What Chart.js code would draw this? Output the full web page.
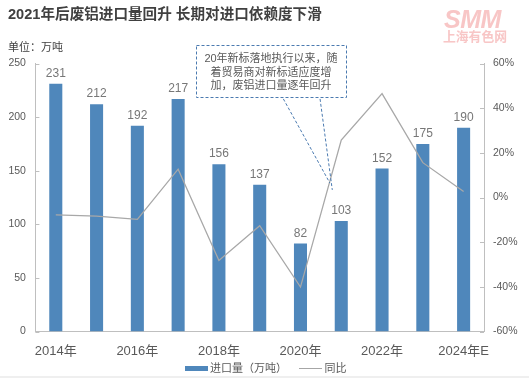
<!DOCTYPE html>
<html><head><meta charset="utf-8">
<script src="https://cdn.jsdelivr.net/npm/chart.js@4"></script>
<style>
html,body{margin:0;padding:0;background:#efefef;}
#wrap{position:relative;width:529px;height:376px;background:#fff;overflow:hidden;font-family:'Liberation Sans','Noto Sans CJK SC',sans-serif;color:#595959;}
#c{position:absolute;left:0;top:0;}
.t{position:absolute;white-space:nowrap;line-height:1;}
</style></head><body>
<div id="wrap">
<canvas id="c" width="529" height="376"></canvas>
<div class="t" style="left:8px;top:6.5px;font-size:14.6px;font-weight:bold;color:#404040;">2021年后废铝进口量回升 长期对进口依赖度下滑</div>
<div class="t" style="left:444px;top:6.5px;font-size:25px;font-weight:900;font-style:italic;color:#f8c6c6;letter-spacing:-0.5px;">SMM</div>
<div class="t" style="left:443px;top:31px;font-size:12.8px;font-weight:bold;color:#f8c6c6;">上海有色网</div>
<div class="t" style="left:8px;top:41.5px;font-size:11px;color:#404040;">单位：万吨</div>
<div class="t" style="left:196px;top:52px;width:150px;text-align:center;font-size:11px;line-height:13.5px;color:#595959;">20年新标落地执行以来，随<br>着贸易商对新标适应度增<br>加，废铝进口量逐年回升</div>
<div style="position:absolute;left:185px;top:365.5px;width:22.5px;height:5px;background:#4f87bb;"></div>
<div class="t" style="left:210px;top:362.5px;font-size:11px;">进口量（万吨）</div>
<div style="position:absolute;left:298.5px;top:367.5px;width:23.5px;height:1px;background:#a6a6a6;"></div>
<div class="t" style="left:324.5px;top:362.5px;font-size:11px;">同比</div>
</div>
<script>
const years = ['2014年','2015年','2016年','2017年','2018年','2019年','2020年','2021年','2022年','2023年','2024年E'];
const importVolume = [231, 212, 192, 217, 156, 137, 82, 103, 152, 175, 190];
const yoyPct = [-7.8, -8.3, -9.8, 12.7, -28.2, -12.6, -40.1, 25.7, 46.5, 15.6, 2.7];
const leftAxisMin = 0, leftAxisMax = 250, leftAxisStep = 50;
const rightAxisMin = -60, rightAxisMax = 60, rightAxisStep = 20;

const FONT = "'Liberation Sans','Noto Sans CJK SC',sans-serif";
Chart.defaults.font.family = FONT;
Chart.defaults.color = '#595959';

const extras = {
  id: 'extras',
  afterDatasetsDraw(chart) {
    const ctx = chart.ctx, ca = chart.chartArea;
    const xs = chart.scales.x, ys = chart.scales.y, y1 = chart.scales.y1;
    ctx.save();
    // inside tick marks
    ctx.strokeStyle = '#bfbfbf'; ctx.lineWidth = 1;
    ys.ticks.forEach(t => {
      const py = Math.round(ys.getPixelForValue(t.value)) + 0.5;
      ctx.beginPath(); ctx.moveTo(ca.left, py); ctx.lineTo(ca.left + 4, py); ctx.stroke();
    });
    y1.ticks.forEach(t => {
      const py = Math.round(y1.getPixelForValue(t.value)) + 0.5;
      ctx.beginPath(); ctx.moveTo(ca.right - 4, py); ctx.lineTo(ca.right, py); ctx.stroke();
    });
    // bar value labels
    const meta = chart.getDatasetMeta(0);
    ctx.fillStyle = '#777777';
    ctx.font = '12px ' + FONT;
    ctx.textAlign = 'center'; ctx.textBaseline = 'alphabetic';
    meta.data.forEach((bar, i) => {
      ctx.fillText(String(importVolume[i]), bar.x, bar.y - 7);
    });
    // callout box + pointer
    const bx0 = xs.getPixelForValue(3.426), bx1 = xs.getPixelForValue(7.11);
    const by0 = y1.getPixelForValue(68.1), by1 = y1.getPixelForValue(44.6);
    ctx.strokeStyle = '#4a7ab0'; ctx.lineWidth = 1; ctx.setLineDash([3, 2]);
    ctx.strokeRect(Math.round(bx0) + 0.5, Math.round(by0) + 0.5, Math.round(bx1 - bx0), Math.round(by1 - by0));
    ctx.beginPath();
    ctx.moveTo(xs.getPixelForValue(5.58), by1 + 1); ctx.lineTo(xs.getPixelForValue(6.72), y1.getPixelForValue(6.5));
    ctx.moveTo(xs.getPixelForValue(6.48), by1 + 1); ctx.lineTo(xs.getPixelForValue(6.78), y1.getPixelForValue(3.4));
    ctx.stroke();
    ctx.restore();
  }
};

new Chart(document.getElementById('c'), {
  data: {
    labels: years,
    datasets: [
      { type: 'bar', label: '进口量（万吨）', data: importVolume, backgroundColor: '#4f87bb',
        barPercentage: 0.32, categoryPercentage: 1, yAxisID: 'y', order: 1 },
      { type: 'line', label: '同比', data: yoyPct, borderColor: '#a8a8a8', borderWidth: 1.3,
        pointRadius: 0, tension: 0, yAxisID: 'y1', order: 0 }
    ]
  },
  options: {
    responsive: false, animation: false,
    layout: { padding: { top: 63.5, left: 0.4, right: 0, bottom: 0 } },
    plugins: { legend: { display: false }, tooltip: { enabled: false } },
    scales: {
      x: {
        grid: { display: false, drawTicks: false, tickLength: 0 },
        border: { display: true, color: '#bfbfbf' },
        ticks: { autoSkip: false, maxRotation: 0, minRotation: 0, padding: 12, font: { size: 13 }, color: '#595959',
          callback: (v, i) => (i % 2 === 0 ? years[i] : '') },
        afterFit(s) { s.height = 44.5; }
      },
      y: {
        position: 'left', min: leftAxisMin, max: leftAxisMax,
        grid: { display: false, drawTicks: false, tickLength: 0 },
        border: { display: true, color: '#bfbfbf' },
        ticks: { stepSize: leftAxisStep, padding: 9.5, font: { size: 10.5 }, color: '#595959' },
        afterFit(s) { s.width = 35; }
      },
      y1: {
        position: 'right', min: rightAxisMin, max: rightAxisMax,
        grid: { display: false, drawTicks: false, tickLength: 0 },
        border: { display: true, color: '#bfbfbf' },
        ticks: { stepSize: rightAxisStep, padding: 9, font: { size: 10.5 }, color: '#595959', callback: v => v + '%' },
        afterFit(s) { s.width = 45; }
      }
    }
  },
  plugins: [extras]
});
</script>
</body></html>
